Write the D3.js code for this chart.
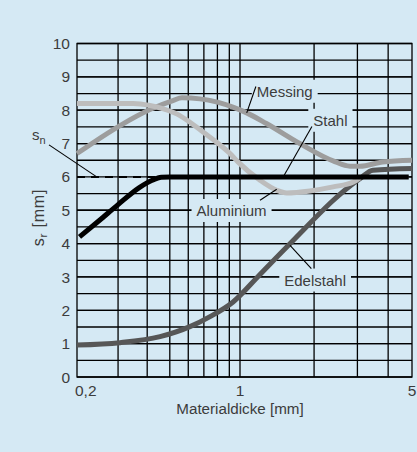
<!DOCTYPE html>
<html>
<head>
<meta charset="utf-8">
<script src="https://cdn.jsdelivr.net/npm/d3@7"></script>
<style>
  html, body { margin: 0; padding: 0; background: #d5e9f4; }
  svg { display: block; font-family: "Liberation Sans", Arial, sans-serif; }
</style>
</head>
<body>
<svg id="chart" width="417" height="452"></svg>
<script>
// Materialdicke [mm] (x) against s_r [mm] (y), one series per material
const stahlX      = [0.205, 0.25, 0.30, 0.37, 0.42, 0.46, 0.50, 4.85];
const stahlY      = [4.20, 4.70, 5.17, 5.68, 5.90, 5.99, 6.00, 6.00];

const messingX    = [0.20, 0.306, 0.411, 0.516, 0.564, 0.674, 0.80, 0.932, 1.065, 1.28, 1.75, 2.39, 2.80, 3.07, 3.80, 5.0];
const messingY    = [6.70, 7.54, 8.02, 8.29, 8.37, 8.34, 8.24, 8.09, 7.92, 7.60, 7.00, 6.48, 6.32, 6.32, 6.45, 6.50];

const aluminiumX  = [0.20, 0.348, 0.411, 0.469, 0.535, 0.61, 0.696, 0.794, 0.906, 0.98, 1.206, 1.41, 1.549, 1.925, 2.39, 2.89, 3.07];
const aluminiumY  = [8.20, 8.20, 8.14, 8.04, 7.89, 7.64, 7.34, 7.04, 6.70, 6.45, 5.90, 5.60, 5.52, 5.58, 5.70, 5.85, 5.97];

const edelstahlX  = [0.20, 0.306, 0.454, 0.61, 0.744, 0.934, 1.2, 1.549, 3.07, 3.47, 5.0];
const edelstahlY  = [0.96, 1.03, 1.21, 1.51, 1.81, 2.25, 3.06, 3.90, 5.95, 6.20, 6.25];

// nominal value s_n, continued as a dashed line left of the Stahl knee
const snLevel = 6;
const snDashX = [0.2, 0.432];

// axes
const xTickValues = [0.2, 1, 5];
const xTickLabels = ["0,2", "1", "5"];
const xGridValues = [0.3, 0.4, 0.5, 0.6, 0.7, 0.8, 0.9, 1, 2, 3, 4];
const yTickValues = [0, 1, 2, 3, 4, 5, 6, 7, 8, 9, 10];
const yGridValues = d3.range(0.5, 10, 0.5);

// callouts: text position and leader line, in data units
const callouts = [
  { text: "Messing",   tx: 1.52, ty: 8.56, from: [1.16, 8.71], to: [1.065, 7.92] },
  { text: "Stahl",     tx: 2.33, ty: 7.69, from: [1.96, 7.51], to: [1.49, 5.97] },
  { text: "Aluminium", tx: 0.92, ty: 4.985, from: [1.206, 5.30], to: [1.41, 5.63] },
  { text: "Edelstahl", tx: 2.02, ty: 2.90, from: [1.95, 3.25], to: [1.597, 3.95] }
];

const BG = "#d5e9f4";
const INK = "#3c3c3c";

const svg = d3.select("#chart");
svg.append("rect").attr("width", 417).attr("height", 452).attr("fill", BG);

const plotLeft = 77, plotRight = 412, plotTop = 43.5, plotBottom = 377;

const x = d3.scaleLog().domain([0.2, 1, 5]).range([plotLeft, 240, plotRight]);
const y = d3.scaleLinear().domain([0, 10]).range([plotBottom, plotTop]);

// grid; the s_n level is drawn by the dashed line and the Stahl curve instead
const grid = svg.append("g").attr("stroke", "#000").attr("stroke-width", 1.3);
grid.selectAll("line.h")
  .data(yGridValues.concat(yTickValues.filter(v => v !== snLevel)))
  .join("line")
  .attr("class", "h")
  .attr("x1", plotLeft).attr("x2", plotRight)
  .attr("y1", d => y(d)).attr("y2", d => y(d));
grid.append("line")
  .attr("x1", x(stahlX[stahlX.length - 1])).attr("x2", plotRight)
  .attr("y1", y(snLevel)).attr("y2", y(snLevel));
grid.selectAll("line.v").data(xGridValues).join("line")
  .attr("class", "v")
  .attr("x1", d => x(d)).attr("x2", d => x(d))
  .attr("y1", plotTop).attr("y2", plotBottom);
grid.append("rect")
  .attr("x", plotLeft).attr("y", plotTop)
  .attr("width", plotRight - plotLeft).attr("height", plotBottom - plotTop)
  .attr("fill", "none");

// callout boxes mask the grid behind their text
const boxLayer = svg.append("g");
const curveLayer = svg.append("g");
const textLayer = svg.append("g");

const line = d3.line().x(d => x(d[0])).y(d => y(d[1])).curve(d3.curveMonotoneX);
const zip = (xs, ys) => xs.map((v, i) => [v, ys[i]]);

const series = [
  { xs: edelstahlX, ys: edelstahlY, color: "#575757" },
  { xs: messingX,   ys: messingY,   color: "#9d9d9d" },
  { xs: aluminiumX, ys: aluminiumY, color: "#bdbdbd" },
  { xs: stahlX,     ys: stahlY,     color: "#000000" }
];

// dashed s_n level
curveLayer.append("line")
  .attr("x1", x(snDashX[0])).attr("x2", x(snDashX[1]))
  .attr("y1", y(snLevel)).attr("y2", y(snLevel))
  .attr("stroke", "#000").attr("stroke-width", 2)
  .attr("stroke-dasharray", "8,6");

curveLayer.selectAll("path.series").data(series).join("path")
  .attr("class", "series")
  .attr("d", d => line(zip(d.xs, d.ys)))
  .attr("fill", "none")
  .attr("stroke", d => d.color)
  .attr("stroke-width", 5)
  .attr("stroke-linejoin", "round");

// callout texts, boxes and leader lines
callouts.forEach(c => {
  const t = textLayer.append("text")
    .attr("x", x(c.tx)).attr("y", y(c.ty))
    .attr("text-anchor", "middle")
    .attr("dy", "0.35em")
    .attr("font-size", 15)
    .attr("fill", INK)
    .text(c.text);
  const b = t.node().getBBox();
  boxLayer.append("rect")
    .attr("x", b.x - 5).attr("y", b.y - 3)
    .attr("width", b.width + 10).attr("height", b.height + 6)
    .attr("fill", BG);
  textLayer.append("line")
    .attr("x1", x(c.from[0])).attr("y1", y(c.from[1]))
    .attr("x2", x(c.to[0])).attr("y2", y(c.to[1]))
    .attr("stroke", "#000").attr("stroke-width", 1.1);
});

// s_n label with leader to the dashed line
const sn = textLayer.append("text")
  .attr("x", plotLeft - 45).attr("y", y(snLevel) - 37)
  .attr("font-size", 15).attr("fill", INK);
sn.append("tspan").text("s");
sn.append("tspan").attr("font-size", 11).attr("dy", 4).text("n");
textLayer.append("line")
  .attr("x1", plotLeft - 28).attr("y1", y(snLevel) - 32)
  .attr("x2", x(0.243)).attr("y2", y(snLevel))
  .attr("stroke", "#000").attr("stroke-width", 1.1);

// y axis labels
svg.append("g").selectAll("text").data(yTickValues).join("text")
  .attr("x", plotLeft - 7).attr("y", d => y(d))
  .attr("dy", "0.36em")
  .attr("text-anchor", "end")
  .attr("font-size", 15.5)
  .attr("fill", INK)
  .text(d => d);

// x axis labels
svg.append("g").selectAll("text").data(xTickValues).join("text")
  .attr("x", (d, i) => i === 0 ? x(d) - 2 : x(d))
  .attr("y", 396)
  .attr("text-anchor", (d, i) => i === 0 ? "start" : "middle")
  .attr("font-size", 15.5)
  .attr("fill", INK)
  .text((d, i) => xTickLabels[i]);

// axis titles
svg.append("text")
  .attr("x", x(1)).attr("y", 414)
  .attr("text-anchor", "middle")
  .attr("font-size", 15.2)
  .attr("fill", INK)
  .text("Materialdicke [mm]");

const yTitle = svg.append("text")
  .attr("transform", `translate(44, ${y(4.78)}) rotate(-90)`)
  .attr("text-anchor", "middle")
  .attr("font-size", 16)
  .attr("letter-spacing", 0.8)
  .attr("fill", INK);
yTitle.append("tspan").text("s");
yTitle.append("tspan").attr("font-size", 11.5).attr("dy", 3).text("r");
yTitle.append("tspan").attr("dy", -3).text(" [mm]");
</script>
</body>
</html>
